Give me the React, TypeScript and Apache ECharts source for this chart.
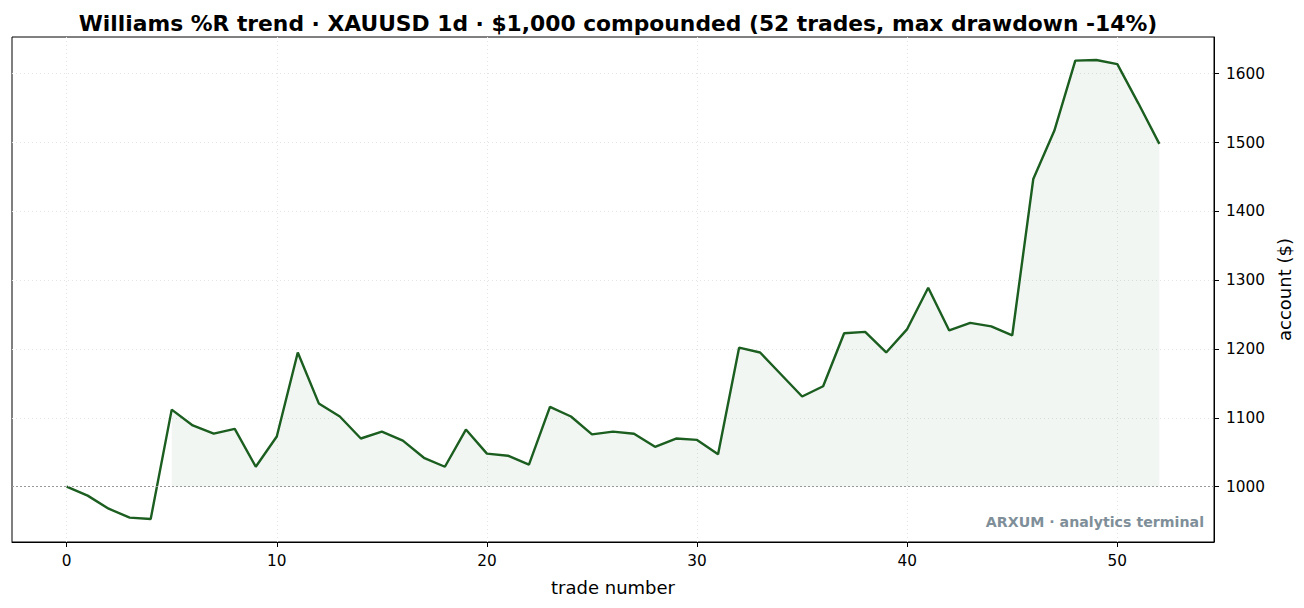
import React, { useEffect, useRef } from "react";
import * as echarts from "echarts";

const tradeIdx: number[] = Array.from({ length: 53 }, (_, i) => i);
const equity: number[] = [
  1000, 987, 968, 955, 953, 1112, 1089, 1077, 1084, 1029,
  1073, 1195, 1121, 1102, 1070, 1080, 1067, 1042, 1029, 1083,
  1048, 1045, 1032, 1116, 1102, 1076, 1080, 1077, 1058, 1070,
  1068, 1047, 1202, 1195, 1163, 1131, 1146, 1223, 1225, 1195,
  1229, 1289, 1227, 1238, 1233, 1220, 1447, 1517, 1619, 1620,
  1614, 1557, 1498,
];
const xTicks: number[] = [0, 10, 20, 30, 40, 50];
const yTicks: number[] = [1000, 1100, 1200, 1300, 1400, 1500, 1600];
const baseline = 1000;
const fillStart = 5;

const titleText =
  "Williams %R trend · XAUUSD 1d · $1,000 compounded (52 trades, max drawdown -14%)";
const watermark = "ARXUM · analytics terminal";

export default function App() {
  const ref = useRef<HTMLDivElement>(null);
  useEffect(() => {
    document.body.style.margin = "0";
    if (!ref.current) return;
    const chart = echarts.init(ref.current, undefined, { renderer: "svg" });
    const lineData = tradeIdx.map((i) => [i, equity[i]]);
    const fillData = tradeIdx.filter((i) => i >= fillStart).map((i) => [i, equity[i]]);
    const font = "DejaVu Sans";
    const n = equity.length - 1;
    const ymin = Math.min(...equity);
    const ymax = Math.max(...equity);
    const yr = ymax - ymin;
    chart.setOption({
      animation: false,
      backgroundColor: "#ffffff",
      textStyle: { fontFamily: font },
      title: {
        text: titleText,
        left: 613,
        textAlign: "center",
        top: 7,
        textStyle: { fontFamily: font, fontSize: 21.8, fontWeight: "bold", color: "#000" },
      },
      grid: {
        left: 12,
        right: 90,
        top: 37,
        bottom: 66,
        show: true,
        borderColor: "#000",
        borderWidth: 1,
        backgroundColor: "transparent",
      },
      xAxis: {
        type: "value",
        min: -n * 0.05,
        max: n * 1.05,
        name: "trade number",
        nameLocation: "middle",
        nameGap: 36,
        nameTextStyle: { fontFamily: font, fontSize: 18, color: "#000" },
        axisLine: { show: true, onZero: false, lineStyle: { color: "#000" } },
        axisTick: { show: true, length: 5, lineStyle: { color: "#000" }, customValues: xTicks },
        axisLabel: { fontFamily: font, fontSize: 15.3, color: "#000", margin: 11, customValues: xTicks },
        splitLine: { show: true, lineStyle: { color: "#e4e4e4", type: [1, 3], width: 1 } },
      },
      yAxis: {
        type: "value",
        position: "right",
        min: ymin - yr * 0.05,
        max: ymax + yr * 0.05,
        name: "account ($)",
        nameLocation: "middle",
        nameRotate: 90,
        nameGap: 57,
        nameTextStyle: { fontFamily: font, fontSize: 18, color: "#000" },
        axisLine: { show: true, onZero: false, lineStyle: { color: "#000" } },
        axisTick: { show: true, length: 5, lineStyle: { color: "#000" }, customValues: yTicks },
        axisLabel: {
          fontFamily: font,
          fontSize: 15.3,
          color: "#000",
          margin: 12,
          customValues: yTicks,
          formatter: (v: number) => String(v),
        },
        splitLine: { show: true, lineStyle: { color: "#e4e4e4", type: [1, 3], width: 1 } },
      },
      graphic: [
        {
          type: "text",
          right: 100,
          top: 515,
          style: {
            text: watermark,
            fontFamily: font,
            fontSize: 14.2,
            fontWeight: "bold",
            fill: "#7f8f99",
          },
          z: 10,
        },
      ],
      series: [
        {
          type: "line",
          data: fillData,
          symbol: "none",
          silent: true,
          lineStyle: { width: 0, opacity: 0 },
          areaStyle: { origin: baseline, color: "rgba(27,94,32,0.08)" },
          z: 1,
        },
        {
          type: "line",
          data: lineData,
          symbol: "none",
          silent: true,
          lineStyle: { width: 2.4, color: "#1b5e20" },
          z: 3,
          markLine: {
            silent: true,
            symbol: "none",
            label: { show: false },
            lineStyle: { color: "#999", type: [2, 2], width: 1.2 },
            data: [{ yAxis: baseline }],
          },
        },
      ],
    });
    return () => chart.dispose();
  }, []);
  return <div ref={ref} style={{ width: 1304, height: 608 }} />;
}
